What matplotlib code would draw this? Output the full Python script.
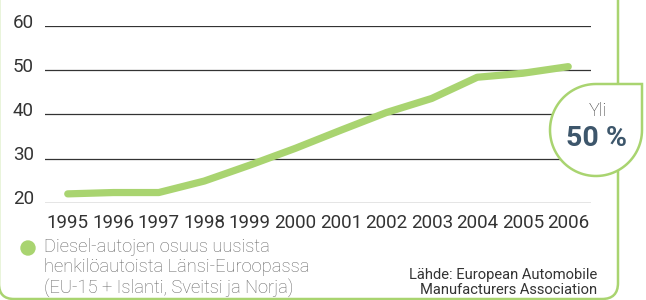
import numpy as np
import matplotlib
matplotlib.use("Agg")
import matplotlib.pyplot as plt
from matplotlib.path import Path
from matplotlib.patches import PathPatch, Circle
import matplotlib.transforms as mtransforms

# data
years = [1995, 1996, 1997, 1998, 1999, 2000, 2001, 2002, 2003, 2004, 2005, 2006]
diesel_share = [22.0, 22.3, 22.3, 24.9, 28.5, 32.3, 36.4, 40.4, 43.6, 48.4, 49.3, 50.8]
yticks = [20, 30, 40, 50, 60]
legend_text = "Diesel-autojen osuus uusista\nhenkilöautoista Länsi-Euroopassa\n(EU-15 + Islanti, Sveitsi ja Norja)"
source_text = "Lähde: European Automobile\nManufacturers Association"
badge_top = "Yli"
badge_big = "50 %"

GREEN = "#a9d470"
DARK = "#333333"
SLATE = "#3d566b"
W, H = 646, 300

plt.rcParams['font.family'] = ['Roboto', 'DejaVu Sans']

fig = plt.figure(figsize=(W / 100, H / 100), dpi=100)

# main plot area in pixel terms: x 45..591, y(20)=202.7, y(60)=26
ax = fig.add_axes([45 / W, 1 - 202.7 / H, (591 - 45) / W, (202.7 - 26) / H])
ax.set_xlim(1994.5, 2006.5)
ax.set_ylim(20, 60)
for s in ax.spines.values():
    s.set_visible(False)
for v in yticks:
    ax.axhline(v, color=DARK, lw=0.9, zorder=1)
ax.plot(years, diesel_share, color=GREEN, lw=5.2, solid_capstyle='round',
        solid_joinstyle='round', zorder=3, clip_on=False)

ax.set_xticks(years)
ax.set_xticklabels([str(y) for y in years], fontsize=13.5, color=DARK)
ax.set_yticks(yticks)
ax.set_yticklabels([str(v) for v in yticks], fontsize=13.5, color=DARK)
ax.tick_params(length=0)
ax.tick_params(axis='x', pad=8)
ax.tick_params(axis='y', pad=8)
off = mtransforms.ScaledTranslation(0, 5.5 / 100, fig.dpi_scale_trans)
for lab in ax.get_yticklabels():
    lab.set_transform(lab.get_transform() + off)

# overlay in pixel coordinates for decorations
ov = fig.add_axes([0, 0, 1, 1], zorder=5)
ov.set_xlim(0, W)
ov.set_ylim(H, 0)
ov.axis('off')
ov.patch.set_alpha(0)

# green frame at right / bottom
frame = Path([(618, -5), (618, 283), (618, 299), (602, 299), (14, 299), (-1, 299), (-1, 284), (-1, -5)],
             [Path.MOVETO, Path.LINETO, Path.CURVE3, Path.CURVE3, Path.LINETO, Path.CURVE3, Path.CURVE3, Path.LINETO])
ov.add_patch(PathPatch(frame, fill=False, edgecolor=GREEN, lw=1.8))

# teardrop badge
cx, cy, r = 596, 130, 46
th = np.linspace(0, 1.5 * np.pi, 80)
pts = [(cx + r * np.cos(t), cy + r * np.sin(t)) for t in th]
pts = pts + [(cx + r, cy - r), pts[0]]
badge = Path(pts, [Path.MOVETO] + [Path.LINETO] * (len(pts) - 2) + [Path.CLOSEPOLY])
ov.add_patch(PathPatch(badge, facecolor='white', edgecolor=GREEN, lw=1.8, zorder=3))
ov.text(598, 111, badge_top, ha='center', va='center', fontsize=13, color=DARK,
        fontweight='light', zorder=4)
ov.text(597, 139, badge_big, ha='center', va='center', fontsize=20.5, color=SLATE,
        fontweight='bold', zorder=4)

# legend
ov.add_patch(Circle((28, 248), 7, color=GREEN, zorder=3))
ov.text(44.5, 238, legend_text, ha='left', va='top', fontsize=13.2, color='#666666',
        fontweight='light', linespacing=1.14)

# source
ov.text(597, 268, source_text, ha='right', va='top', fontsize=10.6, color=DARK,
        linespacing=1.05, multialignment='right')

fig.savefig("out.png", dpi=100)
